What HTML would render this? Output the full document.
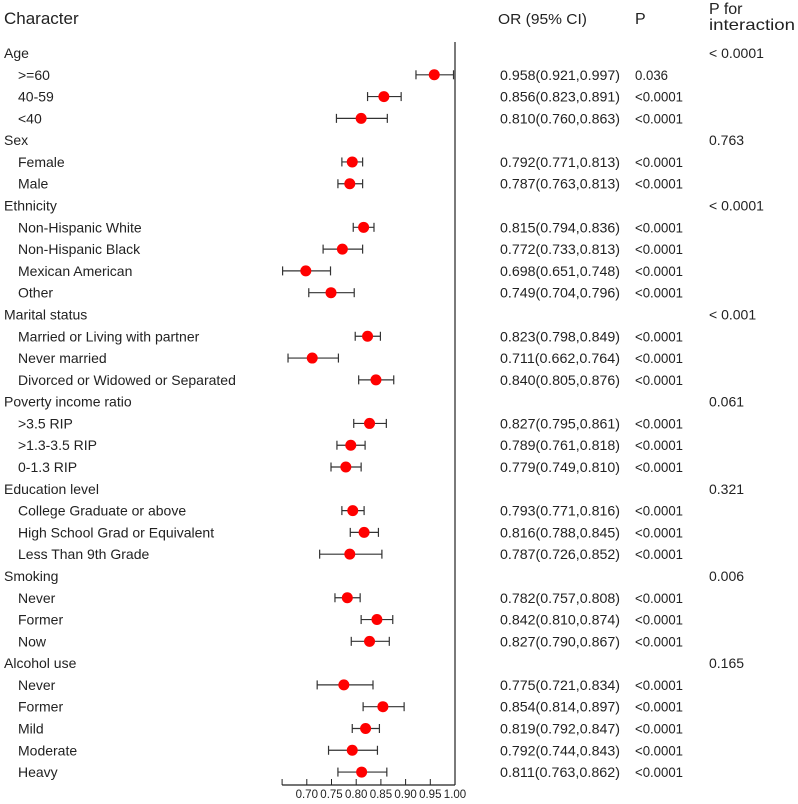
<!DOCTYPE html>
<html><head><meta charset="utf-8"><style>
body{margin:0;background:#fff;}
svg{display:block;font-family:"Liberation Sans","DejaVu Sans",sans-serif;}
</style></head><body>
<svg id="c" width="798" height="804">
<text x="4" y="24" font-size="17" fill="#222">Character</text>
<text x="498" y="24" font-size="15" fill="#222" textLength="89" lengthAdjust="spacingAndGlyphs">OR (95% CI)</text>
<text x="635" y="24" font-size="16" fill="#222">P</text>
<text x="709" y="14" font-size="16" fill="#222">P for</text>
<text x="709" y="30" font-size="16" fill="#222" textLength="86" lengthAdjust="spacingAndGlyphs">interaction</text>
</svg>
<script>
const labels=["Age",">=60","40-59","<40","Sex","Female","Male","Ethnicity","Non-Hispanic White","Non-Hispanic Black","Mexican American","Other","Marital status","Married or Living with partner","Never married","Divorced or Widowed or Separated","Poverty income ratio",">3.5 RIP",">1.3-3.5 RIP","0-1.3 RIP","Education level","College Graduate or above","High School Grad or Equivalent","Less Than 9th Grade","Smoking","Never","Former","Now","Alcohol use","Never","Former","Mild","Moderate","Heavy"];
const orVals=[null,0.958,0.856,0.810,null,0.792,0.787,null,0.815,0.772,0.698,0.749,null,0.823,0.711,0.840,null,0.827,0.789,0.779,null,0.793,0.816,0.787,null,0.782,0.842,0.827,null,0.775,0.854,0.819,0.792,0.811];
const lowVals=[null,0.921,0.823,0.760,null,0.771,0.763,null,0.794,0.733,0.651,0.704,null,0.798,0.662,0.805,null,0.795,0.761,0.749,null,0.771,0.788,0.726,null,0.757,0.810,0.790,null,0.721,0.814,0.792,0.744,0.763];
const highVals=[null,0.997,0.891,0.863,null,0.813,0.813,null,0.836,0.813,0.748,0.796,null,0.849,0.764,0.876,null,0.861,0.818,0.810,null,0.816,0.845,0.852,null,0.808,0.874,0.867,null,0.834,0.897,0.847,0.843,0.862];
const pVals=[null,"0.036","<0.0001","<0.0001",null,"<0.0001","<0.0001",null,"<0.0001","<0.0001","<0.0001","<0.0001",null,"<0.0001","<0.0001","<0.0001",null,"<0.0001","<0.0001","<0.0001",null,"<0.0001","<0.0001","<0.0001",null,"<0.0001","<0.0001","<0.0001",null,"<0.0001","<0.0001","<0.0001","<0.0001","<0.0001"];
const pInter=["< 0.0001",null,null,null,"0.763",null,null,"< 0.0001",null,null,null,null,"< 0.001",null,null,null,"0.061",null,null,null,"0.321",null,null,null,"0.006",null,null,null,"0.165",null,null,null,null,null];
const ticks=[0.65,0.70,0.75,0.80,0.85,0.90,0.95,1.00];
const tickLabels=["","0.70","0.75","0.80","0.85","0.90","0.95","1.00"];
const svg=document.getElementById('c');const NS="http://www.w3.org/2000/svg";
const x=v=>455-(1-v)/0.05*24.7;
const y=i=>53+i*21.79;
function mk(t,a,p){const e=document.createElementNS(NS,t);for(const k in a)e.setAttribute(k,a[k]);(p||svg).appendChild(e);return e;}
function txt(s,a,name){const e=mk('text',Object.assign({'font-size':14,fill:'#222'},a));e.textContent=s;


return e;}
const rl=mk('line',{x1:x(1),x2:x(1),y1:42,y2:785,stroke:'#222','stroke-width':1.2});


const ax=mk('line',{x1:x(ticks[0]),x2:x(1),y1:785,y2:785,stroke:'#222','stroke-width':1.2});


ticks.forEach((t,k)=>{const tl=mk('line',{x1:x(t),x2:x(t),y1:779,y2:785,stroke:'#222'});


if(tickLabels[k])txt(tickLabels[k],{x:x(t),y:798,'text-anchor':'middle','font-size':11.5},'x-tick-label');});
labels.forEach((s,i)=>{const isH=orVals[i]===null;
const tw=s.length*7.05;
txt(s,{x:isH?4:18,y:y(i)+5},isH?'group-label':'subgroup-label');
if(pInter[i])txt(pInter[i],{x:709,y:y(i)+5},'p-interaction-value');
if(!isH){
txt(orVals[i].toFixed(3)+"("+lowVals[i].toFixed(3)+","+highVals[i].toFixed(3)+")",{x:500,y:y(i)+5,textLength:120,lengthAdjust:'spacingAndGlyphs'},'or-ci-value');
const pv=pVals[i];
txt(pv,{x:635,y:y(i)+5,textLength:pv.length===7?48:33,lengthAdjust:'spacingAndGlyphs'},'p-value');
const g=mk('g',{stroke:'#333','stroke-width':1.2});


mk('line',{x1:x(lowVals[i]),x2:x(highVals[i]),y1:y(i),y2:y(i)},g);
mk('line',{x1:x(lowVals[i]),x2:x(lowVals[i]),y1:y(i)-4.5,y2:y(i)+4.5},g);
mk('line',{x1:x(highVals[i]),x2:x(highVals[i]),y1:y(i)-4.5,y2:y(i)+4.5},g);
const c=mk('circle',{cx:x(orVals[i]),cy:y(i),r:5.5,fill:'#f00'});


}});
</script>
</body></html>
